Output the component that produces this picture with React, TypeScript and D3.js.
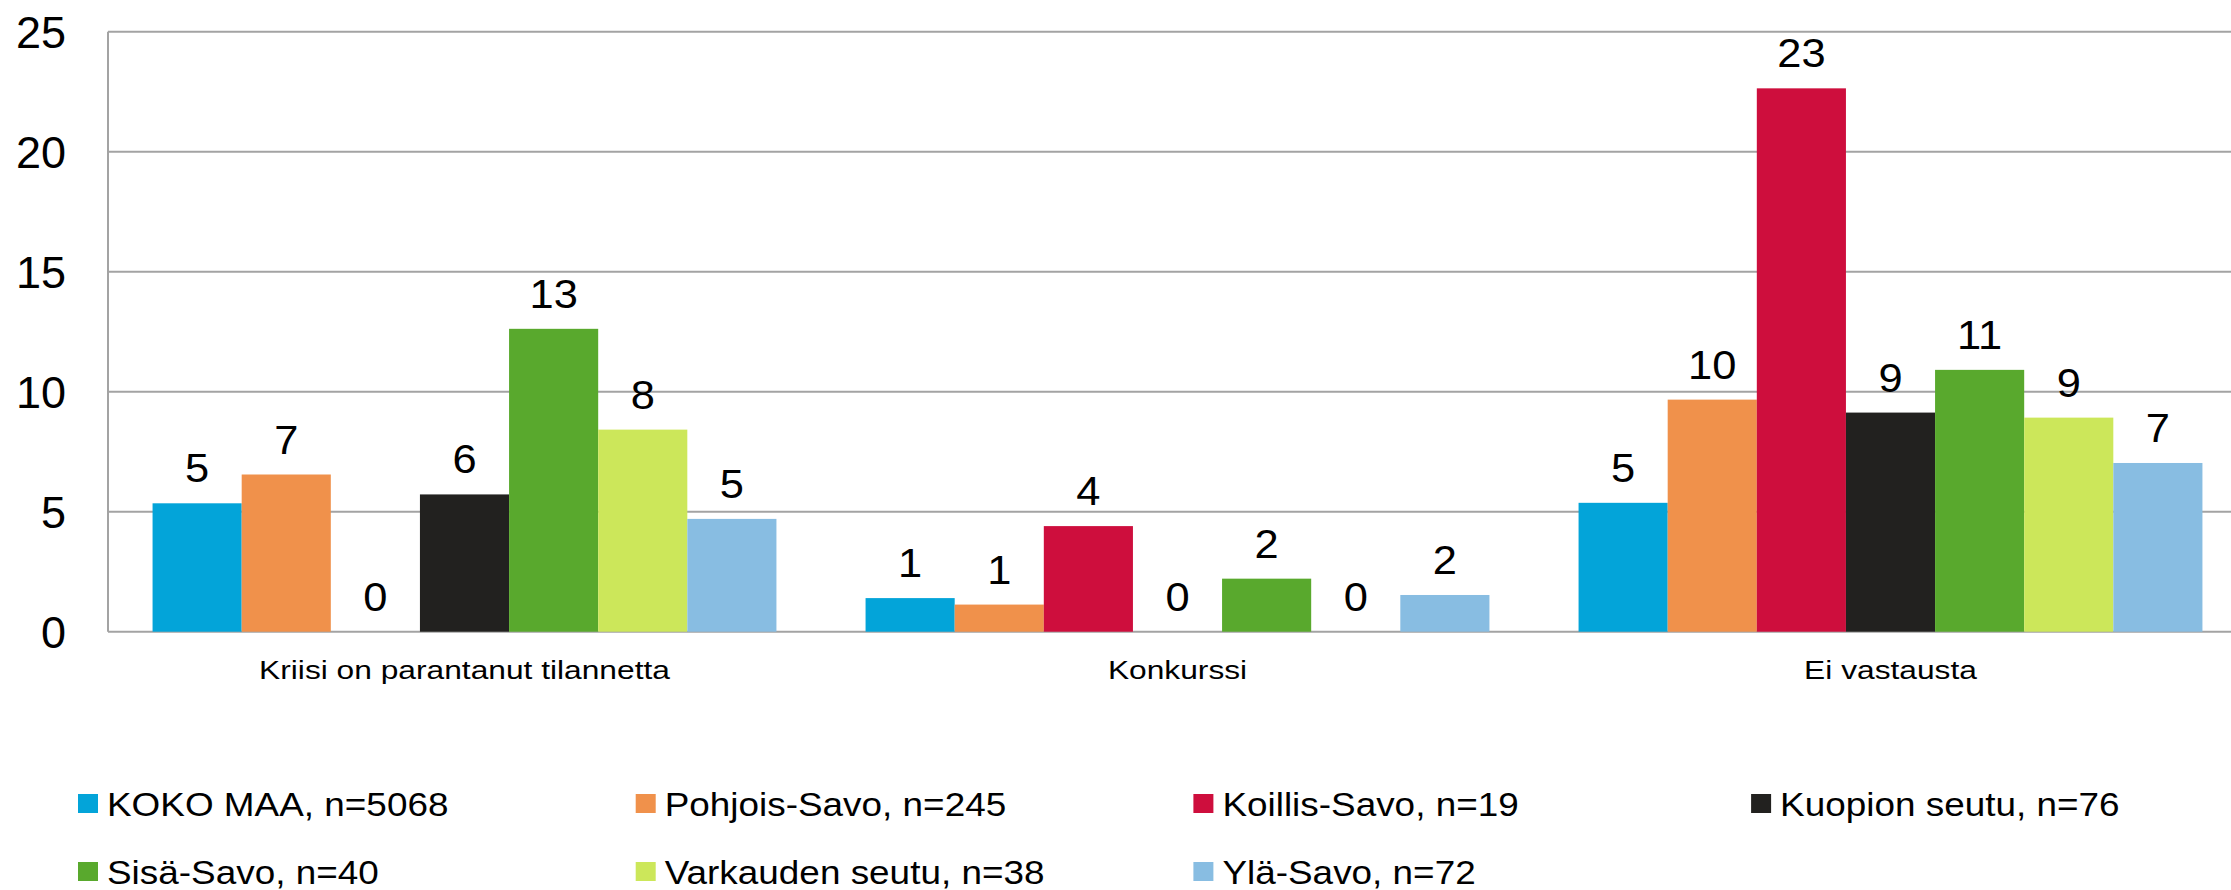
import React from 'react';
import * as d3 from 'd3';

const categories = ['Kriisi on parantanut tilannetta', 'Konkurssi', 'Ei vastausta'];

const seriesNames = [
  'KOKO MAA, n=5068',
  'Pohjois-Savo, n=245',
  'Koillis-Savo, n=19',
  'Kuopion seutu, n=76',
  'Sisä-Savo, n=40',
  'Varkauden seutu, n=38',
  'Ylä-Savo, n=72',
];

const seriesColors = ['#03A4D9', '#F0914B', '#CE0E3D', '#22211F', '#59A92D', '#CCE75A', '#88BDE2'];

// values per series, one entry per category
const kokoMaa = [5.35, 1.4, 5.37];
const pohjoisSavo = [6.55, 1.13, 9.67];
const koillisSavo = [0, 4.4, 22.64];
const kuopionSeutu = [5.72, 0, 9.13];
const sisaSavo = [12.62, 2.21, 10.91];
const varkaudenSeutu = [8.42, 0, 8.92];
const ylaSavo = [4.7, 1.53, 7.03];

const seriesValues = [kokoMaa, pohjoisSavo, koillisSavo, kuopionSeutu, sisaSavo, varkaudenSeutu, ylaSavo];

const yTicks = [0, 5, 10, 15, 20, 25];

const W = 2231;
const H = 890;
const FONT = '"Liberation Sans", Arial, sans-serif';

export default function App() {
  const left = 108;
  const step = 713;
  const top = 31.7;
  const bottom = 631.7;

  const x0 = d3.scaleBand<string>().domain(categories).range([left, left + step * categories.length]);
  const bw = x0.bandwidth();
  const x1 = d3
    .scaleBand<string>()
    .domain(seriesNames)
    .range([bw / 16, bw - bw / 16]);
  const y = d3.scaleLinear().domain([0, 25]).range([bottom, top]);

  return (
    <div style={{ position: 'fixed', left: 0, top: 0 }}>
      <svg width={W} height={H} style={{ display: 'block', background: '#fff' }} fontFamily={FONT}>
        {/* grid */}
        {yTicks.map((t) => (
          <g key={t}>
            <line x1={left} x2={W} y1={y(t)} y2={y(t)} stroke="#a3a3a3" strokeWidth={2} />
            <text x={66} y={y(t)} dy="0.36em" textAnchor="end" fontSize={45} fill="#000">
              {t}
            </text>
          </g>
        ))}
        <line x1={left} x2={left} y1={top} y2={bottom} stroke="#a3a3a3" strokeWidth={2} />

        {/* bars */}
        {categories.map((c, ci) => (
          <g key={c} transform={`translate(${x0(c)},0)`}>
            {seriesNames.map((s, si) => {
              const v = seriesValues[si][ci];
              const bx = x1(s)!;
              return (
                <g key={s}>
                  {v > 0 && (
                    <rect x={bx} y={y(v)} width={x1.bandwidth()} height={y(0) - y(v)} fill={seriesColors[si]} />
                  )}
                  <text
                    transform={`translate(${bx + x1.bandwidth() / 2},${y(v) - 21}) scale(1.06,1)`}
                    textAnchor="middle"
                    fontSize={41}
                    fill="#000"
                  >
                    {Math.round(v)}
                  </text>
                </g>
              );
            })}
            <text
              transform={`translate(${bw / 2},679) scale(1.22,1)`}
              textAnchor="middle"
              fontSize={26}
              fill="#000"
            >
              {c}
            </text>
          </g>
        ))}

        {/* legend */}
        {seriesNames.map((s, i) => {
          const col = i % 4;
          const row = Math.floor(i / 4);
          const lx = 78 + col * 557.7;
          const ly = 816 + row * 68;
          return (
            <g key={s}>
              <rect x={lx} y={ly - 22} width={20} height={19} fill={seriesColors[i]} />
              <text transform={`translate(${lx + 29},${ly}) scale(1.118,1)`} fontSize={33} fill="#000">
                {s}
              </text>
            </g>
          );
        })}
      </svg>
    </div>
  );
}
